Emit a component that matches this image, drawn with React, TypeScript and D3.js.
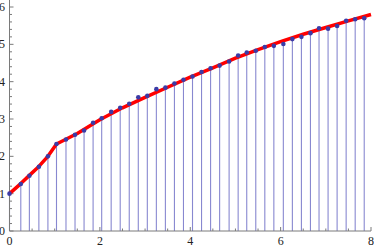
import React, { useEffect, useRef } from 'react';
import * as d3 from 'd3';

// sample points (stems + dots)
const sampleX = [0, 0.25, 0.44, 0.65, 0.85, 1.04, 1.25, 1.45, 1.65, 1.85, 2.04, 2.25, 2.45, 2.65, 2.85,
  3.05, 3.25, 3.45, 3.65, 3.85, 4.05, 4.25, 4.45, 4.65, 4.86, 5.06, 5.25, 5.45, 5.65, 5.85,
  6.06, 6.26, 6.46, 6.66, 6.85, 7.05, 7.25, 7.45, 7.65, 7.85];
const sampleY = [1.0, 1.26, 1.48, 1.72, 2.0, 2.33, 2.45, 2.58, 2.69, 2.9, 3.02, 3.19, 3.3, 3.41, 3.58,
  3.62, 3.8, 3.84, 3.95, 4.05, 4.14, 4.26, 4.36, 4.43, 4.54, 4.7, 4.78, 4.83, 4.93, 4.96,
  5.01, 5.14, 5.2, 5.3, 5.43, 5.42, 5.49, 5.63, 5.67, 5.7];

// fitted curve (red)
const fitX = [0, 0.25, 0.44, 0.65, 0.85, 1.04, 1.5, 2, 2.5, 3, 3.5, 4, 4.5, 5, 5.5, 6, 6.5, 7, 7.5, 8];
const fitY = [1.0, 1.27, 1.49, 1.73, 2.0, 2.33, 2.61, 2.98, 3.3, 3.58, 3.85, 4.12, 4.37, 4.63, 4.86, 5.07, 5.27, 5.45, 5.63, 5.8];

const xTickLabels = [0, 2, 4, 6, 8];
const yTickLabels = [0, 1, 2, 3, 4, 5, 6];

const App = () => {
  const ref = useRef<SVGSVGElement>(null);

  useEffect(() => {
    const svg = d3.select(ref.current);
    svg.selectAll('*').remove();

    const x = d3.scaleLinear().domain([0, 8]).range([9.5, 371]);
    const y = d3.scaleLinear().domain([0, 6]).range([231, 7]);
    const axisColor = '#7a7a7a';
    const font = "'Liberation Serif', 'Times New Roman', serif";

    const pts = sampleX.map((v, i) => ({ x: v, y: sampleY[i] }));
    const fit = fitX.map((v, i) => ({ x: v, y: fitY[i] }));

    // stems
    svg.append('g')
      .selectAll('line')
      .data(pts)
      .enter()
      .append('line')
      .attr('x1', d => x(d.x))
      .attr('x2', d => x(d.x))
      .attr('y1', y(0))
      .attr('y2', d => y(d.y))
      .attr('stroke', '#6a6ac4')
      .attr('stroke-opacity', 0.8)
      .attr('stroke-width', 1.1);

    // axes
    const ax = svg.append('g').attr('stroke', axisColor).attr('stroke-width', 1);
    ax.append('line').attr('x1', x(0)).attr('x2', x(8)).attr('y1', y(0)).attr('y2', y(0));
    ax.append('line').attr('x1', x(0)).attr('x2', x(0)).attr('y1', y(0)).attr('y2', 0);

    const xMinor = d3.range(0, 8.01, 0.5);
    ax.selectAll('.xt')
      .data(xMinor)
      .enter()
      .append('line')
      .attr('x1', d => x(d))
      .attr('x2', d => x(d))
      .attr('y1', y(0))
      .attr('y2', d => y(0) - (d % 2 === 0 ? 4 : 2.5));

    const yMinor = d3.range(0, 6.01, 0.2);
    ax.selectAll('.yt')
      .data(yMinor)
      .enter()
      .append('line')
      .attr('x1', x(0))
      .attr('x2', d => x(0) + (Math.abs(d - Math.round(d)) < 1e-6 ? 4 : 2.5))
      .attr('y1', d => y(d))
      .attr('y2', d => y(d));

    // fit line
    svg.append('path')
      .datum(fit)
      .attr('fill', 'none')
      .attr('stroke', '#ff0000')
      .attr('stroke-width', 3.5)
      .attr('stroke-linejoin', 'round')
      .attr('d', d3.line<{ x: number; y: number }>().x(d => x(d.x)).y(d => y(d.y)));

    // dots
    svg.append('g')
      .selectAll('circle')
      .data(pts)
      .enter()
      .append('circle')
      .attr('cx', d => x(d.x))
      .attr('cy', d => y(d.y))
      .attr('r', 2.3)
      .attr('fill', '#3b3ba6');

    // tick labels
    svg.append('g')
      .selectAll('text')
      .data(xTickLabels)
      .enter()
      .append('text')
      .attr('x', d => x(d))
      .attr('y', 245)
      .attr('text-anchor', 'middle')
      .attr('font-family', font)
      .attr('font-size', 12)
      .attr('fill', '#222')
      .text(d => d);

    svg.append('g')
      .selectAll('text')
      .data(yTickLabels)
      .enter()
      .append('text')
      .attr('x', 5)
      .attr('y', d => y(d) + 4)
      .attr('text-anchor', 'end')
      .attr('font-family', font)
      .attr('font-size', 12)
      .attr('fill', '#222')
      .text(d => d);
  }, []);

  return (
    <svg ref={ref} width={374} height={248}
      style={{ position: 'absolute', left: 0, top: 0, background: '#fff' }} />
  );
};

export default App;
